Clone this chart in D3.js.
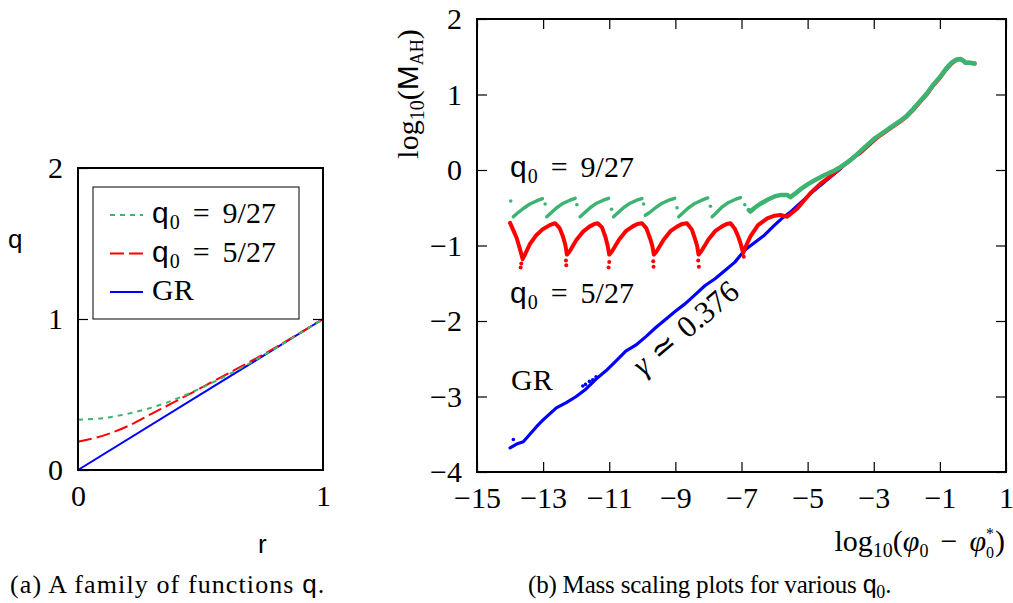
<!DOCTYPE html>
<html>
<head>
<meta charset="utf-8">
<script src="https://cdn.jsdelivr.net/npm/d3@7"></script>
<style>
body { margin: 0; background: #fff; }
text { font-family: "Liberation Serif", serif; fill: #000; }
.sf { font-family: "Liberation Sans", sans-serif; }
</style>
</head>
<body>
<script>
// ---- left panel data: q(r) ----
let rVals = [0, 0.1, 0.2, 0.3, 0.4, 0.5, 0.6, 0.7, 0.8, 0.9, 1.0];
let qGreen = [0.333, 0.343, 0.371, 0.413, 0.470, 0.541, 0.620, 0.706, 0.801, 0.900, 1.0];
let qRed = [0.187, 0.226, 0.288, 0.372, 0.456, 0.542, 0.628, 0.715, 0.806, 0.902, 1.0];
let rGR = [0, 1];
let qGR = [0, 1];
let legendLabels = [["9/27", "green"], ["5/27", "red"], ["GR", "blue"]];

// ---- right panel data: log10(M_AH) vs log10(phi0 - phi0*) ----
let xTicksR = [-15, -13, -11, -9, -7, -5, -3, -1, 1];
let yTicksR = [-4, -3, -2, -1, 0, 1, 2];

let grPts = [[-14.0,-3.68],[-13.8,-3.63],[-13.6,-3.60],[-13.4,-3.50],[-13.2,-3.40],[-13.0,-3.31],
  [-12.8,-3.23],[-12.6,-3.15],[-12.3,-3.08],[-12.0,-3.00],[-11.7,-2.90],[-11.4,-2.77],[-11.1,-2.66],
  [-10.8,-2.53],[-10.5,-2.40],[-10.2,-2.32],[-9.9,-2.21],[-9.6,-2.09],[-9.3,-1.98],[-9.0,-1.87],
  [-8.7,-1.77],[-8.4,-1.65],[-8.1,-1.53],[-7.8,-1.44],[-7.5,-1.33],[-7.2,-1.22],[-6.9,-1.06],
  [-6.6,-0.96],[-6.3,-0.86],[-6.0,-0.73],[-5.8,-0.65],[-5.5,-0.55],[-5.2,-0.43],[-5.0,-0.35],
  [-4.8,-0.27],[-4.6,-0.20],[-4.3,-0.09],[-4.0,0.02]];
let grStray = [[-13.9,-3.57],[-11.8,-2.86],[-11.72,-2.84],[-11.6,-2.80],[-11.5,-2.78],[-11.4,-2.74]];

let redPts = [[-14.0,-0.70],[-13.9,-0.80],[-13.8,-0.90],[-13.7,-1.05],[-13.62,-1.18],
  [-13.55,-1.12],[-13.4,-0.98],[-13.2,-0.86],[-13.0,-0.78],[-12.8,-0.73],[-12.64,-0.705],
  [-12.5,-0.77],[-12.4,-0.88],[-12.33,-0.99],[-12.28,-1.12],
  [-12.2,-1.08],[-12.0,-0.93],[-11.8,-0.82],[-11.6,-0.75],[-11.45,-0.715],[-11.35,-0.705],
  [-11.22,-0.76],[-11.12,-0.88],[-11.05,-1.00],[-11.0,-1.12],
  [-10.92,-1.08],[-10.7,-0.92],[-10.5,-0.81],[-10.3,-0.75],[-10.15,-0.715],[-10.01,-0.705],
  [-9.88,-0.77],[-9.77,-0.90],[-9.7,-1.00],[-9.65,-1.12],
  [-9.57,-1.08],[-9.35,-0.92],[-9.15,-0.81],[-8.95,-0.75],[-8.8,-0.715],[-8.65,-0.705],
  [-8.5,-0.79],[-8.4,-0.92],[-8.34,-1.01],[-8.3,-1.12],
  [-8.22,-1.08],[-8.0,-0.92],[-7.8,-0.81],[-7.6,-0.75],[-7.45,-0.715],[-7.33,-0.705],
  [-7.2,-0.78],[-7.1,-0.88],[-7.03,-0.97],[-6.95,-1.10],
  [-6.88,-1.02],[-6.73,-0.88],[-6.5,-0.73],[-6.22,-0.64],[-6.0,-0.605],[-5.82,-0.595],
  [-5.62,-0.62],[-5.45,-0.56],[-5.31,-0.51],[-5.1,-0.40],[-4.9,-0.30],[-4.61,-0.18],
  [-4.3,-0.08],[-4.0,0.03],[-3.8,0.10],[-3.6,0.17],[-3.4,0.23],[-3.2,0.31],[-3.0,0.39],
  [-2.8,0.46],[-2.5,0.55],[-2.2,0.64],[-2.0,0.71],[-1.8,0.80],[-1.6,0.90],[-1.4,1.00],
  [-1.2,1.12],[-1.0,1.22],[-0.8,1.34],[-0.65,1.41],[-0.5,1.46],[-0.38,1.47],[-0.3,1.45],
  [-0.22,1.42],[-0.1,1.42],[0.05,1.41]];
let redDrops = [[-13.68,-1.29],[-13.66,-1.24],[-12.3,-1.26],[-12.31,-1.20],[-11.02,-1.29],
  [-11.0,-1.22],[-9.66,-1.28],[-9.67,-1.21],[-8.29,-1.28],[-8.31,-1.20],[-6.93,-1.15]];

let greenTeeth = [
  [[-13.90,-0.62],[-13.80,-0.58],[-13.60,-0.51],[-13.40,-0.45],[-13.20,-0.41],[-13.02,-0.38]],
  [[-12.89,-0.62],[-12.79,-0.58],[-12.59,-0.50],[-12.39,-0.44],[-12.19,-0.40],[-12.03,-0.375]],
  [[-11.88,-0.62],[-11.78,-0.58],[-11.58,-0.50],[-11.38,-0.44],[-11.18,-0.40],[-11.02,-0.375]],
  [[-10.87,-0.62],[-10.77,-0.58],[-10.57,-0.50],[-10.37,-0.44],[-10.17,-0.40],[-10.01,-0.38]],
  [[-9.91,-0.60],[-9.80,-0.57],[-9.60,-0.50],[-9.40,-0.44],[-9.20,-0.40],[-9.02,-0.375]],
  [[-8.90,-0.62],[-8.80,-0.58],[-8.60,-0.50],[-8.40,-0.44],[-8.20,-0.40],[-8.02,-0.37]],
  [[-7.89,-0.62],[-7.79,-0.58],[-7.59,-0.49],[-7.39,-0.43],[-7.19,-0.39],[-7.03,-0.366]]
];
let greenTail = [[-6.78,-0.53],[-6.73,-0.55],[-6.6,-0.50],[-6.4,-0.44],[-6.2,-0.39],[-6.0,-0.35],
  [-5.8,-0.33],[-5.62,-0.33],[-5.52,-0.36],[-5.4,-0.32],[-5.2,-0.25],[-5.0,-0.19],[-4.8,-0.14],
  [-4.5,-0.07],[-4.2,-0.01],[-4.0,0.04],[-3.8,0.10],[-3.6,0.17],[-3.4,0.25],[-3.2,0.33],
  [-3.0,0.41],[-2.8,0.47],[-2.5,0.56],[-2.2,0.65],[-2.0,0.72],[-1.8,0.81],[-1.6,0.91],
  [-1.4,1.01],[-1.2,1.13],[-1.0,1.23],[-0.8,1.35],[-0.65,1.42],[-0.5,1.46],[-0.38,1.47],
  [-0.3,1.45],[-0.22,1.42],[-0.1,1.42],[0.05,1.41]];
let greenDrops = [[-13.98,-0.41],[-12.94,-0.45],[-11.98,-0.46],[-10.93,-0.52],[-9.96,-0.45],
  [-8.95,-0.50],[-7.94,-0.48],[-6.9,-0.46]];

let colors = { green: "#3cb371", red: "#ff0000", blue: "#0000ff" };

let svg = d3.select("body").append("svg")
  .attr("width", 1013)
  .attr("height", 603);

// helper: write a run of tspans (sub/superscripts, fonts)
function writeParts(text, parts) {
  parts.forEach(p => {
    let t = text.append("tspan").text(p.t);
    if (p.sf) t.attr("class", "sf");
    if (p.it) t.style("font-style", "italic");
    if (p.size) t.style("font-size", p.size + "px");
    if (p.dy) t.attr("dy", p.dy);
    if (p.dx) t.attr("dx", p.dx);
  });
  return text;
}
function q0Parts(val) {
  return [{ t: "q", sf: true }, { t: "0", size: 20, dy: 6, dx: 1 }, { t: "=", dy: -6, dx: 13 },
    { t: val, dx: 13 }];
}
let texFmt = d3.format("d");

// ================= left panel =================
let xL = d3.scaleLinear().domain([0, 1]).range([78, 323]);
let yL = d3.scaleLinear().domain([0, 2]).range([470, 168]);
let left = svg.append("g");

let lineL = d3.line().x(d => xL(d[0])).y(d => yL(d[1])).curve(d3.curveCatmullRom);

left.append("path").datum(d3.zip(rGR, qGR)).attr("d", lineL)
  .attr("fill", "none").attr("stroke", colors.blue).attr("stroke-width", 2);
left.append("path").datum(d3.zip(rVals, qRed)).attr("d", lineL)
  .attr("fill", "none").attr("stroke", colors.red).attr("stroke-width", 2)
  .attr("stroke-dasharray", "14,5");
left.append("path").datum(d3.zip(rVals, qGreen)).attr("d", lineL)
  .attr("fill", "none").attr("stroke", colors.green).attr("stroke-width", 2)
  .attr("stroke-dasharray", "5,5");

left.append("g").attr("transform", "translate(78,0)")
  .call(d3.axisLeft(yL).tickValues([0, 1, 2]).tickSize(-10).tickPadding(15).tickFormat(texFmt));
left.append("g").attr("transform", "translate(323,0)")
  .call(d3.axisRight(yL).tickValues([1]).tickSize(-10).tickFormat(""));
left.append("g").attr("transform", "translate(0,470)")
  .call(d3.axisBottom(xL).tickValues([0, 1]).tickSize(0).tickPadding(15).tickFormat(texFmt));

left.append("rect").attr("x", 78).attr("y", 168).attr("width", 245).attr("height", 302)
  .attr("fill", "none").attr("stroke", "#000").attr("stroke-width", 2);

// legend
let legend = left.append("g");
legend.append("rect").attr("x", 93).attr("y", 187).attr("width", 206).attr("height", 132)
  .attr("fill", "#fff").attr("stroke", "#000").attr("stroke-width", 1);
let dashes = { green: "5,5", red: "14,5", blue: null };
legendLabels.forEach((d, i) => {
  let y = 215 + i * 38.5;
  legend.append("line").attr("x1", 110).attr("x2", 143).attr("y1", y).attr("y2", y)
    .attr("stroke", colors[d[1]]).attr("stroke-width", 2)
    .attr("stroke-dasharray", dashes[d[1]]);
  let t = legend.append("text").attr("x", 152).attr("y", y + 8).style("font-size", "30px");
  if (d[0] == "GR") t.text("GR");
  else writeParts(t, q0Parts(d[0]));
});

left.append("text").attr("class", "sf").attr("x", 8).attr("y", 248).style("font-size", "26px").text("q");
left.append("text").attr("class", "sf").attr("x", 258).attr("y", 553).style("font-size", "26px").text("r");
writeParts(left.append("text").attr("x", 10).attr("y", 593).style("font-size", "26px")
  .style("letter-spacing", "1.1px"),
  [{ t: "(a) A family of functions " }, { t: "q", sf: true }, { t: "." }]);

// ================= right panel =================
let xR = d3.scaleLinear().domain([-15, 1]).range([477, 1006]);
let yR = d3.scaleLinear().domain([-4, 2]).range([472, 19]);
let right = svg.append("g");

let lineR = d3.line().x(d => xR(d[0])).y(d => yR(d[1]));

function dots(pts, color, r) {
  right.append("g").selectAll("circle").data(pts).enter().append("circle")
    .attr("cx", d => xR(d[0])).attr("cy", d => yR(d[1])).attr("r", r).attr("fill", color);
}

right.append("path").datum(grPts).attr("d", lineR).attr("fill", "none")
  .attr("stroke", colors.blue).attr("stroke-width", 3.2).attr("stroke-linejoin", "round").attr("stroke-linecap", "round");
dots(grStray, colors.blue, 1.8);

right.append("path").datum(redPts).attr("d", lineR).attr("fill", "none")
  .attr("stroke", colors.red).attr("stroke-width", 4).attr("stroke-linejoin", "round").attr("stroke-linecap", "round");
dots(redDrops, colors.red, 2);

right.append("g").selectAll("path").data(greenTeeth).enter().append("path")
  .attr("d", lineR).attr("fill", "none").attr("stroke", colors.green).attr("stroke-width", 3.4)
  .attr("stroke-linejoin", "round").attr("stroke-linecap", "round");
right.append("path").datum(greenTail).attr("d", lineR).attr("fill", "none")
  .attr("stroke", colors.green).attr("stroke-width", 4.5).attr("stroke-linejoin", "round").attr("stroke-linecap", "round");
dots(greenDrops, colors.green, 1.8);

// axes (inner ticks on all sides)
right.append("g").attr("transform", "translate(0,472)")
  .call(d3.axisBottom(xR).tickValues(xTicksR).tickSize(-10).tickPadding(15).tickFormat(texFmt));
right.append("g").attr("transform", "translate(0,19)")
  .call(d3.axisTop(xR).tickValues(xTicksR).tickSize(-10).tickFormat(""));
right.append("g").attr("transform", "translate(477,0)")
  .call(d3.axisLeft(yR).tickValues(yTicksR).tickSize(-10).tickPadding(15).tickFormat(texFmt));
right.append("g").attr("transform", "translate(1006,0)")
  .call(d3.axisRight(yR).tickValues(yTicksR).tickSize(-10).tickFormat(""));

right.append("rect").attr("x", 477).attr("y", 19).attr("width", 529).attr("height", 453)
  .attr("fill", "none").attr("stroke", "#000").attr("stroke-width", 2);

// annotations
writeParts(right.append("text").attr("x", 510).attr("y", 177).style("font-size", "30px"), q0Parts("9/27"));
writeParts(right.append("text").attr("x", 510).attr("y", 303).style("font-size", "30px"), q0Parts("5/27"));
right.append("text").attr("x", 511).attr("y", 390).style("font-size", "30px").text("GR");
writeParts(right.append("text").attr("transform", "translate(643,377) rotate(-40)").style("font-size", "31px"),
  [{ t: "γ", it: true }, { t: "≃", dx: 10 }, { t: "0.376", dx: 10 }]);

// axis titles
writeParts(right.append("text").attr("transform", "translate(418,94) rotate(-90)")
  .attr("text-anchor", "middle").style("font-size", "30px"),
  [{ t: "log" }, { t: "10", size: 20, dy: 6 }, { t: "(", dy: -6 }, { t: "M", sf: true },
   { t: "AH", size: 18, dy: 5 }, { t: ")", dy: -5 }]);
writeParts(right.append("text").attr("x", 1005).attr("y", 551).attr("text-anchor", "end").style("font-size", "30px"),
  [{ t: "log" }, { t: "10", size: 20, dy: 6 }, { t: "(", dy: -6 }, { t: "φ", it: true },
   { t: "0", size: 18, dy: 6 }, { t: "−", dy: -6, dx: 12 }, { t: "φ", it: true, dx: 12 },
   { t: "*", size: 16, dy: -12 }, { t: "0", size: 16, dy: 19, dx: -8 }, { t: ")", dy: -7, dx: 1 }]);
writeParts(right.append("text").attr("x", 528).attr("y", 593).style("font-size", "25px")
  .style("letter-spacing", "-0.2px"),
  [{ t: "(b) Mass scaling plots for various " }, { t: "q", sf: true },
   { t: "0", size: 18, dy: 5 }, { t: ".", dy: -5 }]);

// axis styling
svg.selectAll(".domain").remove();
svg.selectAll(".tick line").attr("stroke", "#000").attr("stroke-width", 1.2);
svg.selectAll(".tick text").style("font-size", "30px").style("font-family", "Liberation Serif, serif");
</script>
</body>
</html>
